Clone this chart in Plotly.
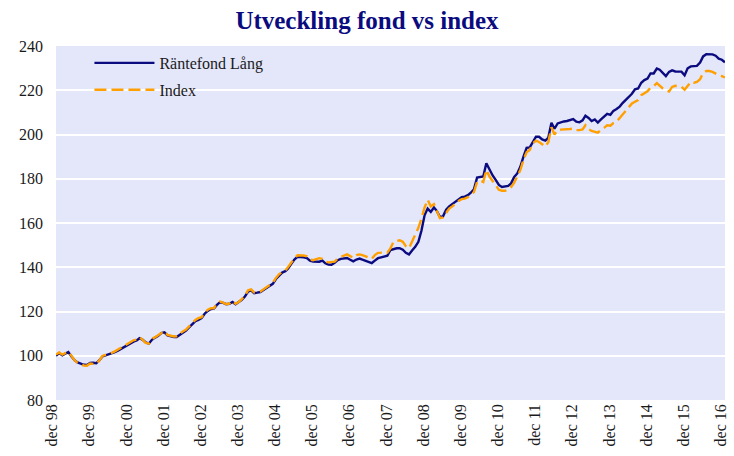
import pandas as pd
import plotly.graph_objects as go

# Monthly index values, Dec 1998 = 100, one row per calendar year
start_month = "1998-12-01"

fund_values = [
    100.0,
    101.2, 100.2, 101.0, 101.7, 99.8, 98.0, 97.0, 96.3, 95.9, 95.8, 96.7, 96.8,           # 1999
    96.6, 98.0, 99.7, 100.2, 100.6, 101.0, 101.6, 102.3, 103.2, 104.0, 104.8, 105.8,      # 2000
    106.4, 106.9, 107.9, 107.2, 106.0, 105.5, 107.2, 108.2, 109.0, 110.2, 110.6, 109.2,   # 2001
    108.8, 108.5, 108.5, 109.5, 110.5, 111.4, 112.8, 114.2, 115.6, 116.2, 117.0, 119.0,   # 2002
    120.3, 121.1, 121.3, 123.0, 124.2, 123.9, 123.3, 123.5, 124.3, 123.3, 124.2, 125.3,   # 2003
    126.8, 129.0, 129.6, 128.3, 128.5, 128.8, 129.7, 130.7, 131.5, 132.5, 134.7, 136.2,   # 2004
    137.6, 138.2, 139.5, 141.6, 143.5, 144.7, 144.7, 144.5, 144.1, 143.0, 142.6, 142.4,   # 2005
    142.5, 143.0, 141.8, 141.2, 141.1, 142.0, 143.2, 143.8, 144.1, 144.2, 143.4, 142.7,   # 2006
    143.5, 143.9, 143.4, 143.0, 142.4, 141.9, 143.0, 144.1, 144.5, 144.8, 145.2, 147.8,   # 2007
    148.3, 148.6, 148.6, 147.9, 146.5, 145.8, 147.6, 149.2, 151.5, 156.5, 163.5, 166.5,   # 2008
    165.0, 167.0, 165.5, 162.7, 163.0, 166.0, 167.5, 168.5, 169.6, 170.8, 171.7, 171.9,   # 2009
    172.6, 173.8, 175.2, 180.5, 180.9, 181.0, 187.0, 184.0, 181.5, 179.5, 177.2, 176.3,   # 2010
    176.4, 176.8, 177.9, 180.8, 182.4, 185.5, 190.0, 194.0, 194.2, 196.5, 199.0, 199.0,   # 2011
    197.8, 197.2, 198.5, 205.3, 202.6, 205.0, 205.6, 205.9, 206.1, 206.4, 207.0, 205.8,   # 2012
    205.5, 206.4, 208.5, 207.5, 206.1, 206.8, 205.4, 206.8, 208.2, 209.3, 208.9, 210.7,   # 2013
    211.5, 212.6, 214.2, 215.6, 217.0, 218.4, 220.4, 220.8, 223.4, 224.6, 225.3, 227.6,   # 2014
    227.6, 229.8, 229.3, 228.0, 226.4, 228.3, 229.0, 228.5, 228.6, 228.4, 226.8, 229.9,   # 2015
    230.8, 231.0, 231.0, 232.5, 235.3, 236.3, 236.3, 236.2, 235.6, 234.3, 233.8, 232.6,   # 2016
]

index_values = [
    100.5,
    101.5, 100.5, 101.3, 101.8, 100.0, 98.0, 96.8, 96.0, 95.6, 95.5, 96.5, 96.5,          # 1999
    96.2, 98.0, 99.9, 100.4, 100.8, 101.3, 102.0, 102.8, 103.7, 104.5, 105.2, 106.3,      # 2000
    107.0, 107.3, 108.4, 107.2, 105.8, 105.5, 107.6, 108.4, 109.3, 110.5, 111.2, 109.4,   # 2001
    109.0, 108.7, 108.8, 110.0, 111.0, 111.8, 113.2, 114.8, 116.2, 117.0, 117.4, 119.4,   # 2002
    120.8, 121.5, 121.5, 123.5, 124.5, 124.0, 123.3, 123.6, 124.8, 123.5, 124.3, 125.6,   # 2003
    127.2, 129.6, 130.0, 128.6, 128.8, 129.0, 130.0, 131.0, 132.0, 133.0, 135.2, 136.8,   # 2004
    137.9, 138.6, 140.1, 142.2, 144.0, 145.4, 145.5, 145.3, 144.9, 143.5, 143.2, 143.5,   # 2005
    144.1, 143.8, 142.6, 142.2, 142.3, 142.5, 144.0, 144.8, 145.3, 145.8, 145.0, 144.3,   # 2006
    145.5, 145.8, 145.5, 144.8, 144.3, 143.8, 145.5, 146.5, 146.6, 146.8, 146.6, 148.5,   # 2007
    151.5, 152.0, 152.2, 151.5, 149.5, 148.6, 151.8, 154.8, 157.8, 162.0, 167.0, 170.5,   # 2008
    167.5, 168.5, 165.5, 162.2, 162.5, 164.8, 166.5, 167.5, 168.8, 170.0, 170.8, 171.0,   # 2009
    171.7, 172.6, 174.0, 178.5, 179.2, 178.5, 184.0, 181.0, 179.0, 177.0, 175.0, 174.6,   # 2010
    174.6, 175.0, 176.2, 178.2, 181.0, 184.0, 188.5, 192.0, 193.0, 196.0, 197.2, 196.6,   # 2011
    195.6, 194.5, 196.5, 203.3, 200.0, 202.0, 202.2, 202.2, 202.3, 202.5, 202.7, 202.0,   # 2012
    202.0, 202.3, 204.2, 202.4, 201.6, 201.2, 200.8, 202.2, 203.0, 204.2, 204.0, 205.2,   # 2013
    205.8, 207.5, 209.0, 210.2, 212.0, 214.0, 214.8, 215.6, 217.8, 218.6, 219.5, 221.2,   # 2014
    221.8, 223.2, 222.0, 220.8, 220.0, 219.4, 221.5, 222.0, 221.8, 221.6, 220.2, 222.0,   # 2015
    223.8, 223.4, 223.8, 225.0, 227.8, 228.7, 228.7, 228.3, 227.5, 226.8, 226.4, 225.8,   # 2016
]

tick_dates = [f"{year}-12-01" for year in range(1998, 2017)]
tick_labels = [
    "dec 98", "dec 99", "dec 00", "dec 01", "dec 02", "dec 03", "dec 04",
    "dec 05", "dec 06", "dec 07", "dec 08", "dec 09", "dec 10", "dec 11",
    "dec 12", "dec 13", "dec 14", "dec 15", "dec 16",
]
y_ticks = [80, 100, 120, 140, 160, 180, 200, 220, 240]

months = pd.date_range(start_month, periods=len(fund_values), freq="MS")

SERIF = "Liberation Serif"
NAVY = "#0b0b80"
ORANGE = "#ffa000"
TEXT = "#1a1a1a"

fig = go.Figure()
fig.add_trace(go.Scatter(
    x=months, y=fund_values, mode="lines", name="Räntefond Lång",
    legendgroup="fund",
    line=dict(color=NAVY, width=2.4),
))
fig.add_trace(go.Scatter(
    x=months, y=index_values, mode="lines", name="Index",
    legendgroup="index",
    line=dict(color=ORANGE, width=2.4, dash="12px,5px"),
))

fig.update_layout(
    width=734, height=456,
    margin=dict(l=56, r=5, t=46, b=56),
    paper_bgcolor="white",
    plot_bgcolor="#e4e6fa",
    font=dict(family=SERIF, size=16, color=TEXT),
    title=dict(
        text="<b>Utveckling fond vs index</b>",
        x=0.5, xanchor="center", y=0.955, yanchor="middle",
        font=dict(family=SERIF, size=25, color=NAVY),
    ),
    legend=dict(
        x=0.05, y=1.0, xanchor="left", yanchor="top",
        bgcolor="rgba(0,0,0,0)",
        font=dict(family=SERIF, size=16, color=TEXT),
        traceorder="grouped", tracegroupgap=3,
        itemwidth=60,
    ),
    showlegend=True,
)

# small extension on the right so the last December label is kept
fig.update_xaxes(
    type="date",
    range=[months[0], months[-1] + pd.Timedelta(days=1)],
    tickmode="array", tickvals=tick_dates, ticktext=tick_labels,
    tickangle=-90, ticklabelshift=-4,
    showgrid=False, zeroline=False, showline=False,
    ticks="", ticklen=0,
    tickfont=dict(family=SERIF, size=16, color=TEXT),
)
fig.update_yaxes(
    range=[80, 240],
    tickmode="array", tickvals=y_ticks,
    showgrid=True, gridcolor="white", gridwidth=2,
    zeroline=False, showline=False,
    ticklabelstandoff=12,
    tickfont=dict(family=SERIF, size=16, color=TEXT),
)

fig.write_html("out.html")
